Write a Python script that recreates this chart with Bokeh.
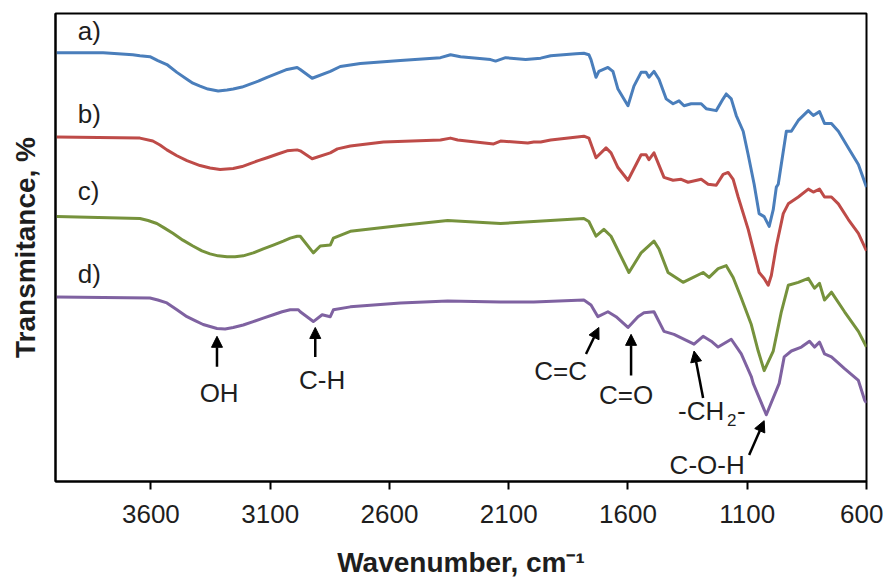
from bokeh.plotting import figure
from bokeh.models import Range1d, FixedTicker, Label, Arrow, NormalHead
from bokeh.embed import file_html
from bokeh.resources import INLINE

# ---------------- data (wavenumber, cm-1 ; transmittance, arbitrary offset units) --------------
wn_a = [3995, 3800, 3676, 3646, 3604, 3571, 3533, 3491, 3449, 3424, 3394, 3361, 3318, 3281, 3255,
        3218, 3184, 3150, 3113, 3071, 3029, 2987, 2974, 2924,
        2848, 2806, 2722, 2554, 2386, 2344, 2302, 2176, 2155, 2113, 2029, 1966, 1924, 1818, 1785,
        1764, 1755, 1734, 1722, 1684, 1663, 1642, 1600, 1575, 1545, 1524, 1512, 1491, 1470, 1440,
        1411, 1386, 1365, 1335, 1293, 1272, 1230, 1201, 1188, 1167, 1146, 1117, 1096, 1071, 1050,
        1029, 1008, 991, 978, 970, 936, 915, 886, 844, 823, 797, 776, 747, 718, 676, 634, 600]
t_a = [437, 437, 435, 434, 433, 429, 425, 417, 410, 406, 403, 400, 398, 399, 400,
       402, 405, 408, 412, 416, 420, 422, 420, 411,
       418, 423, 426, 429, 432, 435, 433, 430, 428.5, 432, 430, 431.5, 434, 436, 436.5,
       435, 430, 412, 418, 422, 418, 400, 383, 403, 417, 417, 412, 418, 410, 390,
       385, 388, 383, 385, 385, 380, 378, 390, 395, 390, 373, 357, 333, 303, 273,
       270, 260, 277, 300, 303, 357, 357, 368, 378, 373, 377, 365, 365, 357, 340, 323, 300]

wn_b = [3995, 3646, 3592, 3562, 3533, 3491, 3449, 3394, 3352, 3310, 3255, 3218, 3184, 3150, 3113,
        3071, 3029, 2987, 2974, 2924, 2848,
        2818, 2764, 2625, 2386, 2344, 2314, 2163, 2134, 2020, 1995, 1966, 1924, 1785, 1764, 1734,
        1692, 1671, 1642, 1600, 1545, 1524, 1512, 1491, 1449, 1411, 1377, 1348, 1293, 1264, 1230,
        1201, 1180, 1159, 1138, 1096, 1071, 1050, 1029, 1012, 999, 978, 949, 928, 886, 844,
        823, 797, 776, 747, 718, 676, 634, 600]
t_b = [351, 350, 347, 343, 338, 332, 327, 322, 319.5, 318, 319, 321, 324, 327, 330,
       333.5, 337, 338, 337, 329, 335,
       339, 342, 346, 348, 350, 348, 344, 347, 345, 346, 346, 348, 352, 350, 330,
       340, 335, 320, 307, 333, 333, 328, 335, 310, 307, 308, 305, 308, 303, 302,
       313, 315, 308, 290, 257, 233, 213, 207, 200, 210, 240, 273, 283, 290, 298,
       295, 298, 290, 290, 283, 267, 253, 235]

wn_c = [3995, 3646, 3612, 3575, 3541, 3508, 3466, 3424, 3386, 3352, 3318, 3281, 3247, 3213, 3171,
        3129, 3087, 3045, 3016, 2987, 2974, 2919, 2890, 2848,
        2835, 2764, 2554, 2356, 2134, 1995, 1785, 1764, 1734, 1701, 1671, 1596, 1545, 1491, 1470,
        1432, 1369, 1335, 1285, 1260, 1222, 1188, 1159, 1125, 1083, 1054, 1029, 991, 957, 928,
        886, 844, 818, 797, 776, 747, 692, 634, 600]
t_c = [270, 268, 266, 263, 258, 253, 246, 240, 235, 232, 230, 229, 229, 230, 233,
       237, 241, 245, 248, 250, 250, 233, 240, 241,
       248, 255, 261, 266, 263, 265, 268, 265, 250, 257, 250, 213, 233, 245, 237,
       213, 203, 207, 213, 208, 217, 220, 208, 187, 160, 133, 113, 133, 173, 200,
       203, 207, 197, 202, 185, 193, 173, 153, 137]

wn_d = [3995, 3604, 3571, 3533, 3491, 3449, 3415, 3381, 3352, 3323, 3289, 3255, 3213, 3171, 3129,
        3087, 3050, 3016, 2982, 2974, 2919, 2882, 2848,
        2835, 2764, 2554, 2356, 2134, 1995, 1785, 1755, 1726, 1684, 1650, 1600, 1558, 1533, 1491,
        1449, 1407, 1323, 1285, 1251, 1222, 1167, 1125, 1083, 1075, 1020, 966, 945, 915, 873,
        839, 818, 797, 776, 747, 692, 634, 608, 600]
t_d = [188, 187, 185, 182, 175, 168, 164, 160, 158, 156, 155.5, 157, 159.5, 163, 166.5,
       170, 173, 175, 175, 173, 163, 170, 168,
       175, 178, 182, 184, 183, 183, 185, 180, 168, 173, 168, 157, 168, 172, 173,
       153, 150, 140, 148, 143, 137, 145, 130, 107, 100, 68, 100, 127, 133, 137,
       143, 137, 142, 130, 127, 115, 103, 83, 80]

x_ticks = [3600, 3100, 2600, 2100, 1600, 1100, 600]
series_names = ["a)", "b)", "c)", "d)"]
colors = ["#4A7EBB", "#BE4B48", "#76923C", "#7F62A1"]

FONT = "Liberation Sans"
TXT = "#1e1e1e"

p = figure(width=883, height=580, x_range=Range1d(4000, 600), y_range=Range1d(0, 477),
           output_backend="svg", toolbar_location=None,
           min_border_left=55, min_border_right=17, min_border_top=13, min_border_bottom=90)
p.grid.visible = False
p.background_fill_color = "white"
p.border_fill_color = "white"
p.outline_line_color = "black"
p.outline_line_width = 2
p.outline_line_alpha = 1

for wn, t, c in zip([wn_a, wn_b, wn_c, wn_d], [t_a, t_b, t_c, t_d], colors):
    p.line(wn, t, line_width=3, color=c, line_join="round")

# x axis
xa = p.xaxis[0]
xa.ticker = FixedTicker(ticks=x_ticks)
xa.major_tick_in = 0
xa.major_tick_out = 8
xa.major_tick_line_width = 2
xa.major_tick_line_color = "black"
xa.minor_tick_line_color = None
xa.axis_line_width = 2
xa.axis_line_color = "black"
xa.major_label_text_font = FONT
xa.major_label_text_font_size = "26px"
xa.major_label_text_color = TXT
xa.major_label_standoff = 15
xa.axis_label = "Wavenumber, cm\u207b\u00b9"
xa.axis_label_text_font = FONT
xa.axis_label_text_font_style = "bold"
xa.axis_label_text_font_size = "28px"
xa.axis_label_text_color = TXT
xa.axis_label_standoff = 21

# y axis
ya = p.yaxis[0]
ya.ticker = FixedTicker(ticks=[])
ya.major_tick_in = 0
ya.major_tick_out = 0
ya.minor_tick_line_color = None
ya.major_label_standoff = 0
ya.axis_line_width = 2
ya.axis_line_color = "black"
ya.axis_label = "Transmitance, %"
ya.axis_label_text_font = FONT
ya.axis_label_text_font_style = "bold"
ya.axis_label_text_font_size = "28px"
ya.axis_label_text_color = TXT
ya.axis_label_standoff = 15

# series labels
label_pos = [(3907, 459), (3907, 375), (3907, 296), (3907, 211)]
for name, (lx, ly) in zip(series_names, label_pos):
    p.add_layout(Label(x=lx, y=ly, text=name, text_font=FONT, text_font_size="26px",
                       text_color=TXT, text_align="left", text_baseline="middle"))

# band annotations
ann_text = ["OH", "C-H", "C=C", "C=O", "C-O-H"]
ann_pos = [(3314, 90), (2882, 103), (1882, 113), (1608, 88), (1268, 17)]
for t, (lx, ly) in zip(ann_text, ann_pos):
    p.add_layout(Label(x=lx, y=ly, text=t, text_font=FONT, text_font_size="26px",
                       text_color=TXT, text_align="center", text_baseline="middle"))

# -CH2- with subscript
p.add_layout(Label(x=1390, y=72, text="-CH", text_font=FONT, text_font_size="26px",
                   text_color=TXT, text_align="left", text_baseline="middle"))
p.add_layout(Label(x=1390, y=72, x_offset=49, y_offset=-9, text="2", text_font=FONT,
                   text_font_size="17px", text_color=TXT, text_align="left", text_baseline="middle"))
p.add_layout(Label(x=1390, y=72, x_offset=59, text="-", text_font=FONT, text_font_size="26px",
                   text_color=TXT, text_align="left", text_baseline="middle"))

arrows = [((3323, 117), (3323, 148)), ((2911, 127), (2911, 157)), ((1776, 130), (1722, 157)),
          ((1587, 108), (1587, 150)), ((1285, 85), (1323, 133)), ((1092, 27), (1029, 62))]
for (xs, ys), (xe, ye) in arrows:
    p.add_layout(Arrow(x_start=xs, y_start=ys, x_end=xe, y_end=ye, line_width=2.5, line_color="black",
                       end=NormalHead(size=11, fill_color="black", line_color="black")))

open("out.html", "w").write(file_html(p, INLINE))
